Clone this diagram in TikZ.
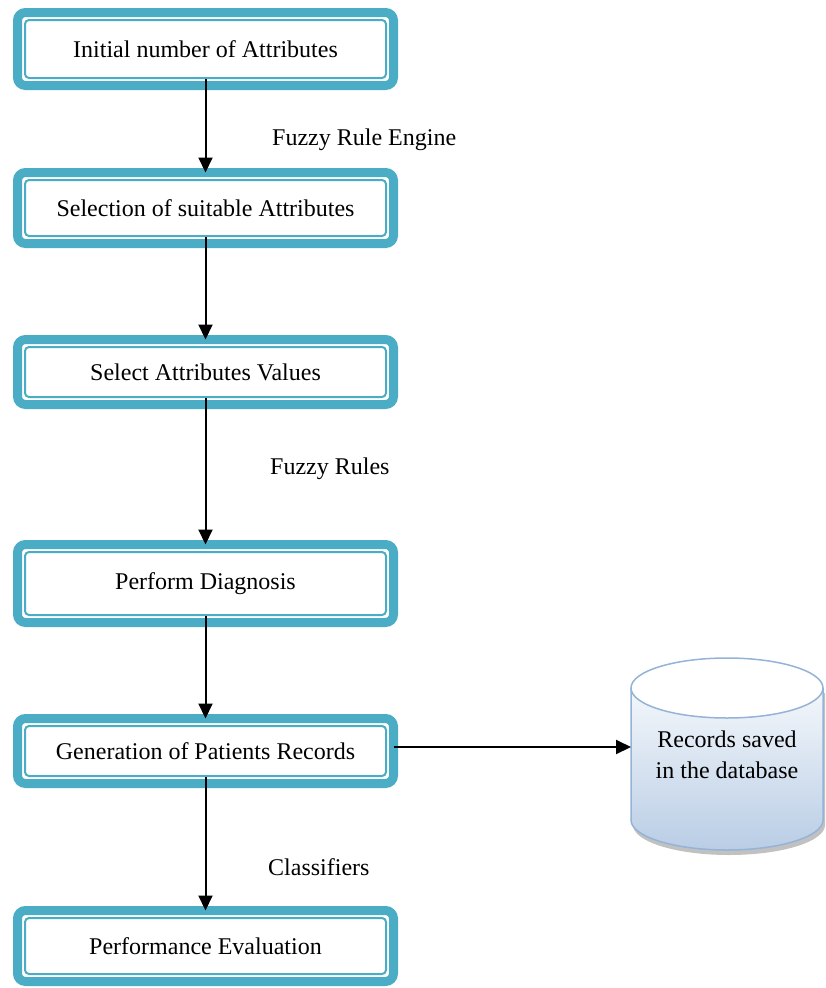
\documentclass[tikz,border=0pt]{standalone}
\usepackage{fontspec}
\setmainfont{Liberation Serif}
\usetikzlibrary{arrows.meta}
\definecolor{teal1}{HTML}{4BACC6}
\definecolor{dbline}{HTML}{95B3D7}
\definecolor{dbfill}{HTML}{B9CDE5}
\begin{document}
\begin{tikzpicture}[x=1pt,y=1pt,
  outerbox/.style={draw=teal1, line width=9pt, rounded corners=8pt, minimum width=376pt, outer sep=0pt, inner sep=0pt},
  innerbox/.style={draw=teal1, line width=2pt, rounded corners=4pt, minimum width=361pt, inner sep=0pt, font=\fontsize{24}{28}\selectfont},
  lbl/.style={anchor=west, font=\fontsize{24}{28}\selectfont, inner sep=0pt},
  arr/.style={draw=black, line width=2pt, -{Triangle[length=15pt,width=14pt]}}]
\useasboundingbox (0,0) rectangle (826,-988);

% boxes
\node[outerbox, minimum height=73pt] (b1) at (205.5,-49) {};
\node[innerbox, minimum height=58pt] (t1) at (b1) {Initial number of Attributes};
\node[outerbox, minimum height=71pt] (b2) at (205.5,-208) {};
\node[innerbox, minimum height=56pt] (t2) at (b2) {Selection of suitable Attributes};
\node[outerbox, minimum height=65pt] (b3) at (205.5,-372) {};
\node[innerbox, minimum height=50pt] (t3) at (b3) {Select Attributes Values};
\node[outerbox, minimum height=78pt] (b4) at (205.5,-583.5) {};
\node[innerbox, minimum height=63pt] (t4) at (b4) {Perform Diagnosis};
\node[outerbox, minimum height=65pt] (b5) at (205.5,-751) {};
\node[innerbox, minimum height=50pt] (t5) at (b5) {Generation of Patients Records};
\node[outerbox, minimum height=71pt] (b6) at (205.5,-946) {};
\node[innerbox, minimum height=56pt] (t6) at (b6) {Performance Evaluation};

% labels
\node[lbl] (l1) at (272,-140) {Fuzzy Rule Engine};
\node[lbl] (l2) at (270,-469) {Fuzzy Rules};
\node[lbl] (l3) at (268,-867) {Classifiers};

% database cylinder
\fill[gray!60, opacity=0.8] (633,-693) -- (633,-825) arc[start angle=180, end angle=360, x radius=96, y radius=30] -- (825,-693) -- cycle;
\shade[top color=white, bottom color=dbfill] (631,-688) -- (631,-820) arc[start angle=180, end angle=360, x radius=96, y radius=30] -- (823,-688) arc[start angle=0, end angle=180, x radius=96, y radius=30] -- cycle;
\draw[dbline, line width=1.5pt] (631,-688) -- (631,-820) arc[start angle=180, end angle=360, x radius=96, y radius=30] -- (823,-688);
\draw[dbline, line width=1.5pt, fill=white] (727,-688) ellipse[x radius=96, y radius=30];
\node[align=center, inner sep=0pt, font=\fontsize{24}{31}\selectfont] (db) at (727,-755) {Records saved\\in the database};
\coordinate (dbw) at (631,-747);

% arrows
\draw[arr] (t1.south) -- (b2.north);
\draw[arr] (t2.south) -- (b3.north);
\draw[arr] (t3.south) -- (b4.north);
\draw[arr] (t4.south) -- (b5.north);
\draw[arr] (t5.south) -- (b6.north);
\draw[arr] (b5.east |- dbw) -- (dbw);
\end{tikzpicture}
\end{document}
